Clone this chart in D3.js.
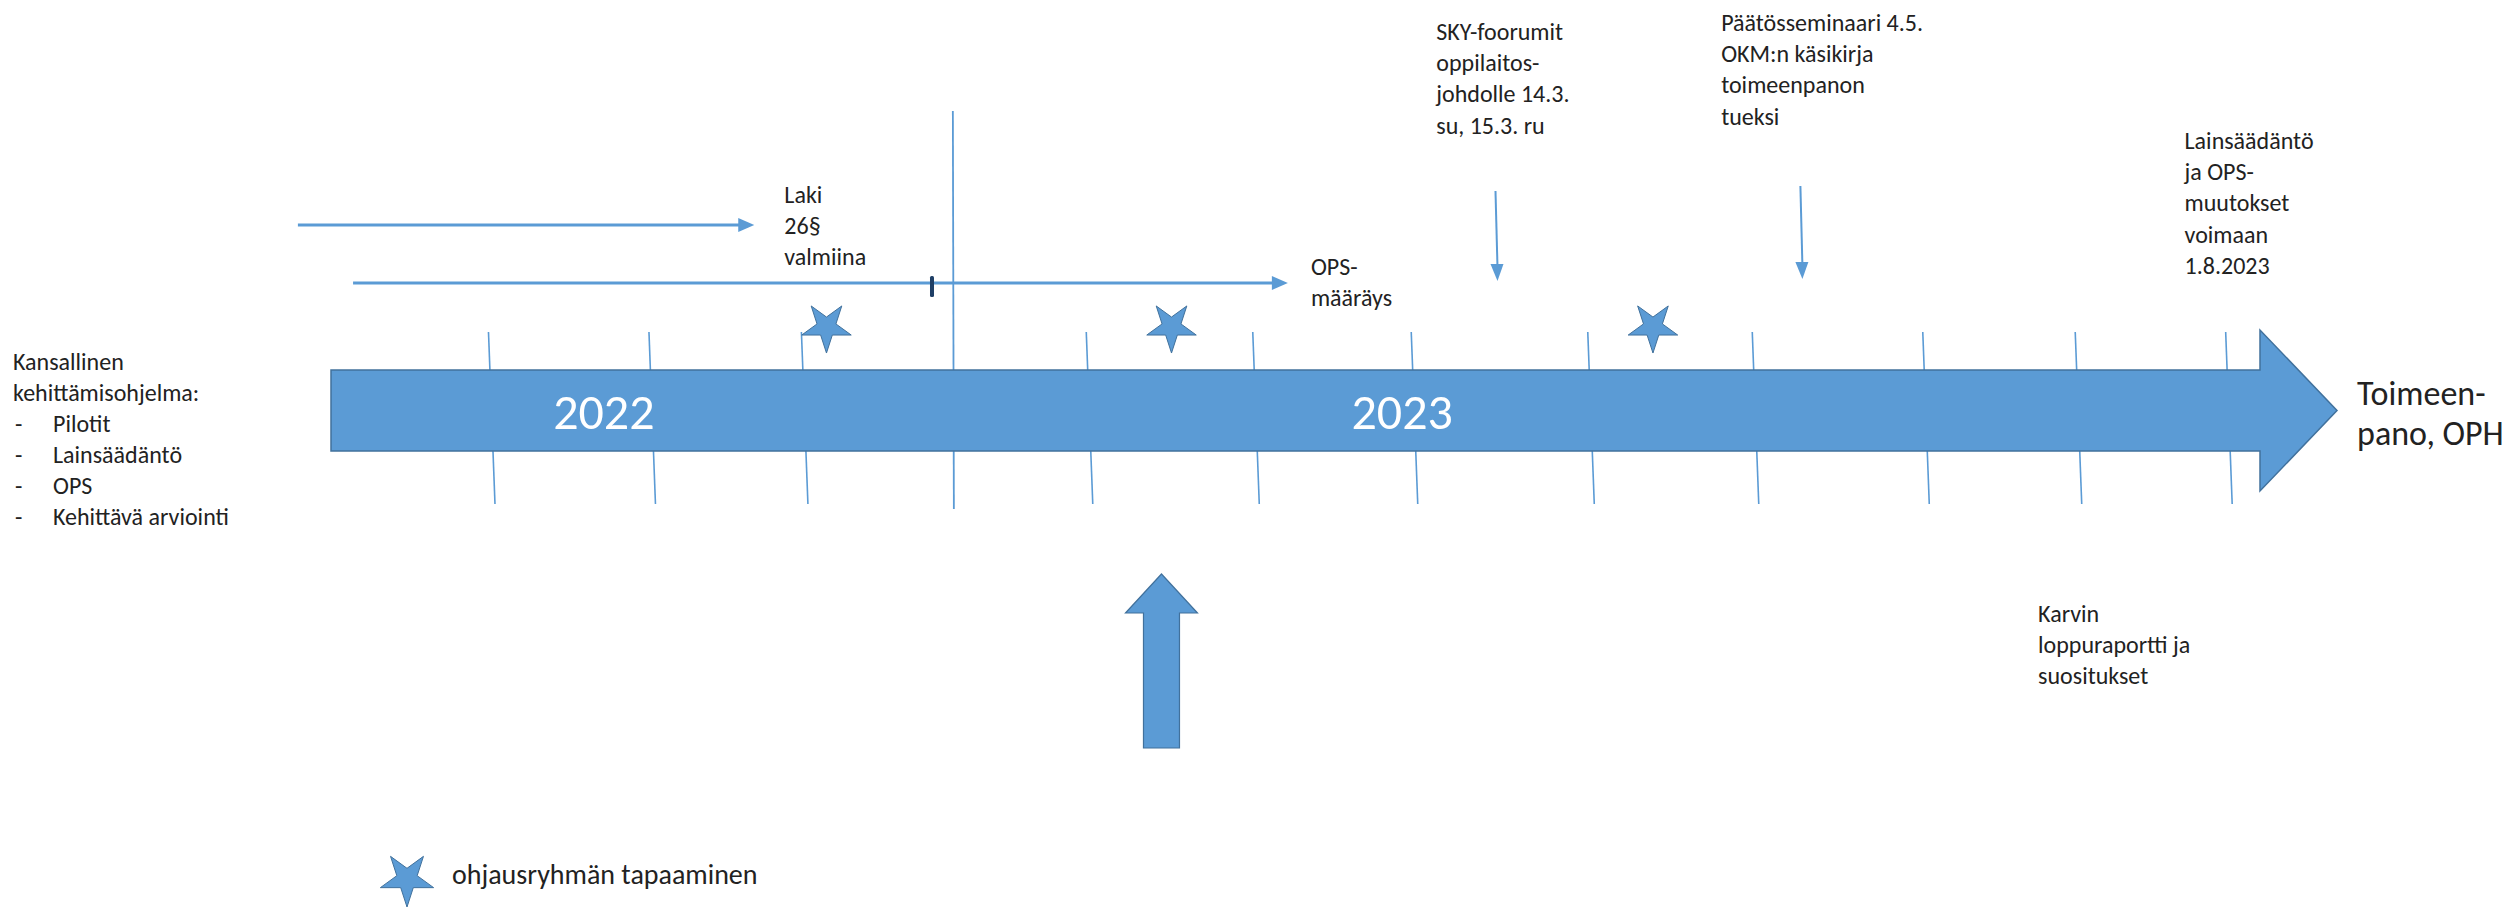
<!DOCTYPE html>
<html>
<head>
<meta charset="utf-8">
<script src="https://cdn.jsdelivr.net/npm/d3@7"></script>
<style>
  body { margin: 0; background: #fff; }
  text { font-family: Carlito, Lato, "Open Sans", sans-serif; fill: #222; }
</style>
</head>
<body>
<div id="timeline"></div>
<script>
// timeline positions are in percent of the arrow length (bar start -> arrow tip)
var yearLabels = ["2022", "2023"];
var yearPos = [13.6, 53.4];

var monthTicks = [8.0, 16.0, 23.6, 31.0, 37.8, 46.1, 54.0, 62.8, 71.0, 79.5, 87.1, 94.6];
var todayPos = 31.0;

var meetingStars = [24.7, 41.9, 65.9];

var spanStart = [-1.65, 1.1];
var spanEnd = [21.1, 47.7];
var spanMarker = 29.96;

var downArrows = [58.1, 73.3];
var upArrow = 41.4;

var eventLabels = [
  ["Laki", "26§", "valmiina"],
  ["OPS-", "määräys"],
  ["SKY-foorumit", "oppilaitos-", "johdolle 14.3.", "su, 15.3. ru"],
  ["Päätösseminaari 4.5.", "OKM:n käsikirja", "toimeenpanon", "tueksi"],
  ["Lainsäädäntö", "ja OPS-", "muutokset", "voimaan", "1.8.2023"],
  ["Karvin", "loppuraportti ja", "suositukset"]
];
var eventPos = [22.6, 48.85, 55.1, 69.3, 92.4, 85.1];

var endLabel = ["Toimeen-", "pano, OPH"];
var programTitle = ["Kansallinen", "kehittämisohjelma:"];
var programItems = ["Pilotit", "Lainsäädäntö", "OPS", "Kehittävä arviointi"];
var legendLabel = "ohjausryhmän tapaaminen";

var svgWidth = 2509;
var svgHeight = 909;

var blue = "#5b9bd5";
var blueDark = "#41719c";

var svg = d3.select("#timeline")
  .append("svg")
  .attr("width", svgWidth)
  .attr("height", svgHeight);

var x = d3.scaleLinear()
  .domain([0, 100])
  .range([331, 2337]);

// bar geometry
var barTop = 370, barBottom = 451, headTop = 330, headBottom = 491;
var barMid = (barTop + barBottom) / 2;
var headBase = 2260;

// month ticks (behind the bar), slightly slanted like the original
svg.append("g").selectAll("line")
  .data(monthTicks.filter(d => d !== todayPos))
  .enter().append("line")
  .attr("x1", d => x(d) - 3)
  .attr("x2", d => x(d) + 3.5)
  .attr("y1", 332)
  .attr("y2", 504)
  .attr("stroke", blue)
  .attr("stroke-width", 1.6);

svg.append("line")
  .attr("x1", x(todayPos))
  .attr("x2", x(todayPos) + 1)
  .attr("y1", 111)
  .attr("y2", 509)
  .attr("stroke", blue)
  .attr("stroke-width", 1.8);

// main arrow
var arrowPts = [
  [x(0), barTop], [headBase, barTop], [headBase, headTop], [x(100), barMid],
  [headBase, headBottom], [headBase, barBottom], [x(0), barBottom]
];
svg.append("path")
  .attr("d", d3.line()(arrowPts) + "Z")
  .attr("fill", blue)
  .attr("stroke", blueDark)
  .attr("stroke-width", 1.5);

svg.append("g").selectAll("text")
  .data(yearLabels)
  .enter().append("text")
  .attr("x", (d, i) => x(yearPos[i]))
  .attr("y", barMid + 18)
  .attr("text-anchor", "middle")
  .attr("font-size", 50)
  .style("fill", "#fff")
  .text(d => d);

// horizontal span arrows
var spanY = [225, 283];
var spans = svg.append("g");
spanStart.forEach(function(s, i) {
  var x0 = x(s), x1 = x(spanEnd[i]);
  spans.append("line")
    .attr("x1", x0).attr("x2", x1 - 14)
    .attr("y1", spanY[i]).attr("y2", spanY[i])
    .attr("stroke", blue)
    .attr("stroke-width", 3);
  spans.append("path")
    .attr("d", d3.line()([[x1 - 16, spanY[i] - 7], [x1, spanY[i]], [x1 - 16, spanY[i] + 7]]) + "Z")
    .attr("fill", blue);
});

svg.append("rect")
  .attr("x", x(spanMarker) - 2)
  .attr("y", 276)
  .attr("width", 4)
  .attr("height", 21)
  .attr("rx", 1.5)
  .attr("fill", "#1f3f66");

// down arrows
var downTop = [191, 186], downTip = [281, 279];
downArrows.forEach(function(p, i) {
  var cx = x(p);
  svg.append("line")
    .attr("x1", cx - 1).attr("x2", cx + 1)
    .attr("y1", downTop[i]).attr("y2", downTip[i] - 14)
    .attr("stroke", blue)
    .attr("stroke-width", 2);
  svg.append("path")
    .attr("d", d3.line()([[cx - 6, downTip[i] - 17], [cx + 1, downTip[i]], [cx + 7, downTip[i] - 17]]) + "Z")
    .attr("fill", blue);
});

// big up arrow
var ux = x(upArrow);
var upPts = [
  [ux, 574], [ux + 36, 613], [ux + 18, 613], [ux + 18, 748],
  [ux - 18, 748], [ux - 18, 613], [ux - 36, 613]
];
svg.append("path")
  .attr("d", d3.line()(upPts) + "Z")
  .attr("fill", blue)
  .attr("stroke", blueDark)
  .attr("stroke-width", 1.2);

// steering group meetings
var star = d3.symbol().type(d3.symbolStar);
svg.append("g").selectAll("path")
  .data(meetingStars)
  .enter().append("path")
  .attr("d", star.size(760))
  .attr("transform", d => `translate(${x(d)}, 327) rotate(180)`)
  .attr("fill", blue)
  .attr("stroke", blueDark)
  .attr("stroke-width", 1);

// multi-line labels
function multiline(lines, lx, ly, size, lh) {
  var t = svg.append("text")
    .attr("font-size", size);
  lines.forEach(function(l, i) {
    t.append("tspan")
      .attr("x", lx)
      .attr("y", ly + i * lh)
      .text(l);
  });
  return t;
}

var eventBaseline = [203, 275, 40, 31, 149, 622];
eventLabels.forEach(function(lines, i) {
  multiline(lines, x(eventPos[i]), eventBaseline[i], 24, 31.2);
});

multiline(endLabel, x(101.0), 405, 34, 40);

// programme list on the left
multiline(programTitle, 13, 370, 24, 31);
programItems.forEach(function(d, i) {
  var yy = 432 + i * 31;
  svg.append("text")
    .attr("x", 15).attr("y", yy)
    .attr("font-size", 24)
    .text("-");
  svg.append("text")
    .attr("x", 53).attr("y", yy)
    .attr("font-size", 24)
    .text(d);
});

// legend
svg.append("path")
  .attr("d", star.size(880))
  .attr("transform", "translate(407, 879) rotate(180)")
  .attr("fill", blue)
  .attr("stroke", blueDark)
  .attr("stroke-width", 1);

svg.append("text")
  .attr("x", 452)
  .attr("y", 884)
  .attr("font-size", 28)
  .text(legendLabel);
</script>
</body>
</html>
